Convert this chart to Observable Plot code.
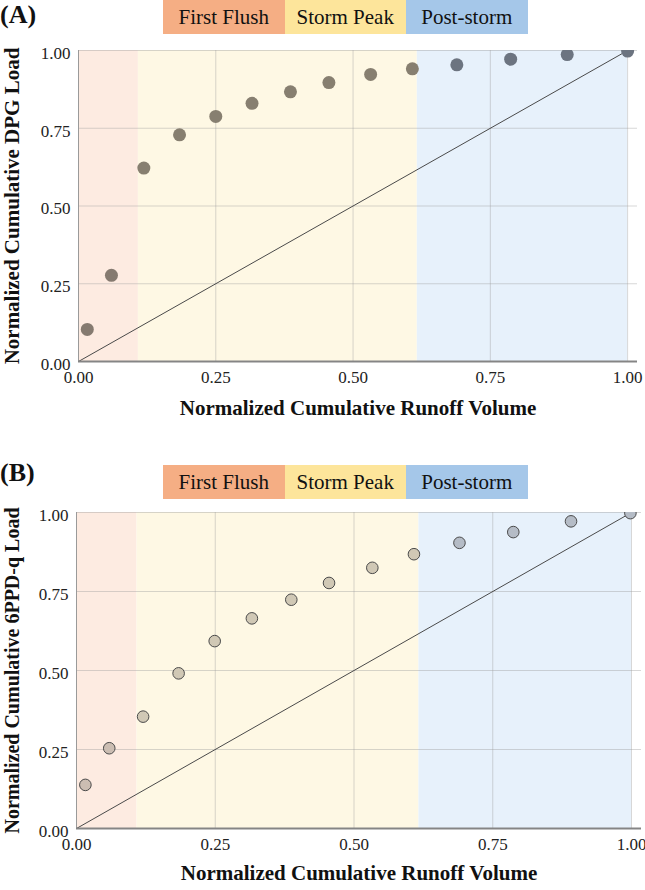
<!DOCTYPE html>
<html>
<head>
<meta charset="utf-8">
<script src="https://cdn.jsdelivr.net/npm/d3@7"></script>
<script src="https://cdn.jsdelivr.net/npm/@observablehq/plot@0.6"></script>
<style>
  html, body { margin: 0; padding: 0; background: #fff; }
  #root { position: relative; width: 645px; height: 890px; font-family: "Liberation Serif", "Times New Roman", serif; color: #111; }
  .panel-tag { position: absolute; left: 0; font-weight: bold; font-size: 26px; line-height: 1; }
  .legend { position: absolute; left: 163px; display: flex; height: 34px; }
  .legend div { width: 121.5px; height: 34px; display: flex; align-items: center; justify-content: center; font-size: 21px; }
  .chart { position: absolute; left: 0; }
</style>
</head>
<body>
<div id="root"></div>
<script>
// ---------- data ----------
const phaseNames = ["First Flush", "Storm Peak", "Post-storm"];
const phaseStart = [0, 0.109, 0.617];
const phaseEnd = [0.109, 0.617, 1.0];

const runoffA = [0.016, 0.060, 0.119, 0.184, 0.250, 0.316, 0.386, 0.456, 0.532, 0.608, 0.689, 0.787, 0.890, 1.000];
const loadA   = [0.103, 0.277, 0.622, 0.729, 0.788, 0.830, 0.867, 0.897, 0.923, 0.941, 0.954, 0.972, 0.987, 0.998];

const runoffB = [0.016, 0.059, 0.120, 0.184, 0.249, 0.316, 0.387, 0.455, 0.533, 0.608, 0.690, 0.787, 0.891, 0.998];
const loadB   = [0.138, 0.254, 0.354, 0.491, 0.593, 0.665, 0.724, 0.777, 0.825, 0.868, 0.904, 0.938, 0.972, 0.998];

const tickValues = [0, 0.25, 0.5, 0.75, 1.0];
const diagonal = [0, 1];

const xTitle = "Normalized Cumulative Runoff Volume";
const yTitleA = "Normalized Cumulative DPG Load";
const yTitleB = "Normalized Cumulative 6PPD-q Load";

// ---------- styles ----------
const bandFill = {"First Flush": "#fdebe1", "Storm Peak": "#fef8e4", "Post-storm": "#e7f1fb"};
const legendFill = {"First Flush": "#f5ae84", "Storm Peak": "#fde59b", "Post-storm": "#a5c7e9"};
const dotFillA = {"First Flush": "#857a70", "Storm Peak": "#877f70", "Post-storm": "#6c7480"};
const dotFillB = {"First Flush": "#cbbdb2", "Storm Peak": "#d0c8b5", "Post-storm": "#b5bcc6"};

const bands = phaseNames.map((n, i) => ({name: n, x1: phaseStart[i], x2: phaseEnd[i]}));
function phaseOf(x) {
  for (let i = 0; i < phaseNames.length; i++) if (x < phaseEnd[i]) return phaseNames[i];
  return phaseNames[phaseNames.length - 1];
}
const ptsA = runoffA.map((x, i) => ({x, y: loadA[i], phase: phaseOf(x)}));
const ptsB = runoffB.map((x, i) => ({x, y: loadB[i], phase: phaseOf(x)}));

const root = document.getElementById("root");

function addLegend(top) {
  const lg = document.createElement("div");
  lg.className = "legend";
  lg.style.top = top + "px";
  phaseNames.forEach(n => {
    const d = document.createElement("div");
    d.textContent = n;
    d.style.background = legendFill[n];
    lg.appendChild(d);
  });
  root.appendChild(lg);
}
function addTag(text, top) {
  const t = document.createElement("div");
  t.className = "panel-tag";
  t.textContent = text;
  t.style.top = top + "px";
  root.appendChild(t);
}

function makePanel(pts, dotFill, dotStyle, yTitle, opts) {
  const fmt = d3.format(".2f");
  return Plot.plot({
    width: 645,
    height: opts.height,
    marginTop: opts.marginTop,
    marginBottom: opts.marginBottom,
    marginLeft: opts.marginLeft,
    marginRight: opts.marginRight,
    style: {fontFamily: '"Liberation Serif", "Times New Roman", serif', fontSize: "17px", color: "#222", background: "transparent"},
    x: {domain: [0, 1.018]},
    y: {domain: [0, 1]},
    marks: [
      Plot.rect(bands, {x1: "x1", x2: "x2", y1: 0, y2: 1, fill: d => bandFill[d.name]}),
      Plot.ruleX(tickValues.slice(1), {y1: 0, y2: 1, stroke: "#9a9a9a", strokeOpacity: 0.4}),
      Plot.ruleY(tickValues.slice(1), {stroke: "#9a9a9a", strokeOpacity: 0.4}),
      Plot.ruleX([0], {y1: 0, y2: 1, stroke: "#9a9a9a"}),
      Plot.line(diagonal, {x: d => d, y: d => d, stroke: "#4a4a4a", strokeWidth: 1}),
      Plot.dot(pts, {x: "x", y: "y", r: dotStyle.r, fill: d => dotFill[d.phase], stroke: dotStyle.stroke, strokeWidth: dotStyle.strokeWidth, clip: true}),
      Plot.ruleY([0], {stroke: "#858585", strokeWidth: 2}),
      Plot.axisX({ticks: tickValues, tickFormat: fmt, tickSize: 0, tickPadding: 9, fontSize: 17, label: null}),
      Plot.axisY({ticks: tickValues, tickFormat: fmt, tickSize: 0, tickPadding: 8, dy: 3, fontSize: 17, label: null}),
      Plot.text([xTitle], {text: d => d, frameAnchor: "bottom", dy: opts.xTitleDy, fontWeight: "bold", fontSize: 21, fill: "#111"}),
      Plot.text([yTitle], {text: d => d, frameAnchor: "left", textAnchor: "middle", dx: -opts.yTitleOffset, rotate: -90, fontWeight: "bold", fontSize: opts.yTitleSize, fill: "#111"})
    ]
  });
}

// Panel A
addTag("(A)", 2);
addLegend(0);
const chartA = makePanel(ptsA, dotFillA, {r: 6.5, stroke: "none", strokeWidth: 0}, yTitleA,
  {height: 389, marginTop: 14, marginBottom: 64, marginLeft: 78, marginRight: 8, xTitleDy: 53, yTitleOffset: 66, yTitleSize: 21});
chartA.classList.add("chart");
chartA.style.top = "36px";
root.appendChild(chartA);

// Panel B
addTag("(B)", 460);
addLegend(465);
const chartB = makePanel(ptsB, dotFillB, {r: 5.8, stroke: "#4a4a4a", strokeWidth: 1}, yTitleB,
  {height: 392, marginTop: 14, marginBottom: 62, marginLeft: 76, marginRight: 4, xTitleDy: 51, yTitleOffset: 64, yTitleSize: 20});
chartB.classList.add("chart");
chartB.style.top = "498px";
root.appendChild(chartB);
</script>
</body>
</html>
